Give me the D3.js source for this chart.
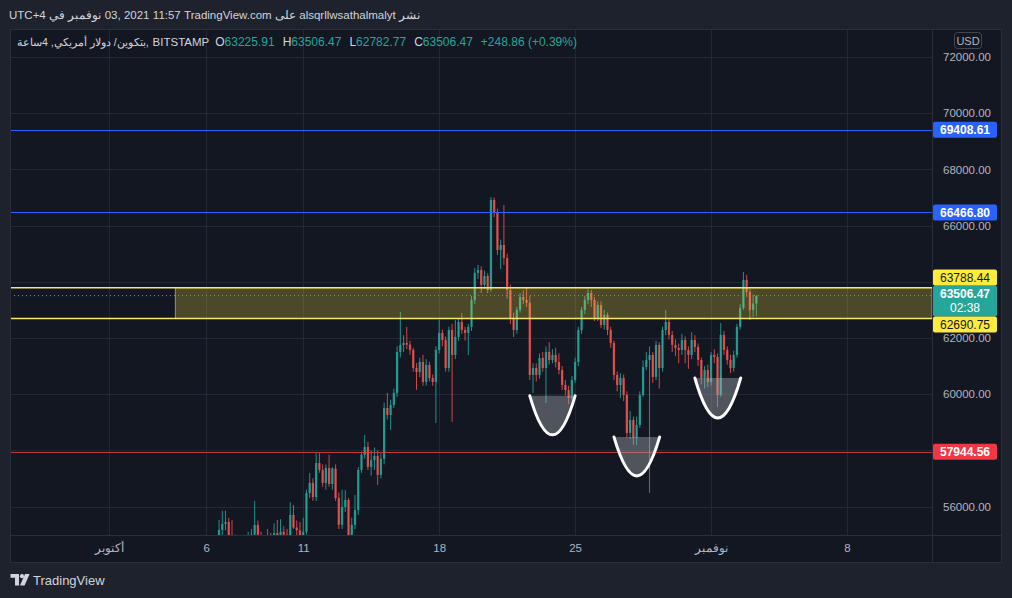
<!DOCTYPE html>
<html><head><meta charset="utf-8">
<script src="https://cdn.jsdelivr.net/npm/d3@7"></script>
<style>html,body{margin:0;padding:0;background:#1e222d;overflow:hidden}</style>
</head><body><svg id="c" width="1012" height="598"></svg>
<script>
// ---------------- DATA ----------------
const candleStart = "2021-10-06T16:00:00Z"; // first 4h bar, then every 4 hours
const opens = [
 54900,55166,
 55380,55450,54950,54800,54500,54700,
 54600,54800,54900,55000,55344,54950,
 54700,54800,54950,54900,55050,54950,
 55100,55000,54900,55700,55250,55150,
 54750,55100,56480,56840,56340,57550,
 57300,56840,57370,56800,57350,56300,
 55350,55985,56234,54950,55344,55878,
 57301,57836,58120,57408,57650,57800,
 57123,57700,59508,59259,59615,60042,
 61501,61750,61821,61760,61572,60932,
 60789,61145,60433,61038,60575,60433,
 61572,62178,61928,60932,62284,61394,
 62035,62569,62284,62178,62391,63352,
 64313,64419,63886,64206,63708,66911,
 66448,65131,65309,64846,63708,62711,
 62284,62996,63458,63352,63250,60682,
 60932,60682,61287,60932,61501,61216,
 61394,61145,60860,60326,60148,59864,
 60504,61145,62284,62996,63352,63601,
 63352,62711,63174,62462,62818,62284,
 61821,60682,60326,60575,59971,58618,
 59081,58440,58903,59971,60967,61216,
 61394,60611,61750,60932,62284,62569,
 62107,61750,61644,61572,61928,61572,
 61394,61928,61679,61216,60575,60860,
 60433,61394,61323,59971,62107,61572,
 61216,60932,61394,62391,63067,64064,
 63640,62996,63225.91
];
const highs = [
 55520,55850,
 55850,55600,55520,55000,54900,54950,
 54950,55100,55200,56200,55500,55100,
 54950,55200,55060,55400,55520,55550,
 55300,55200,56150,56050,55500,55450,
 55600,56600,57190,57000,57900,57900,
 57500,57500,57840,57400,57500,56500,
 56590,56590,56300,55600,56412,57400,
 57950,58550,58300,58000,58100,58000,
 57900,59700,60042,59800,60200,61700,
 62925,62100,62391,61900,61650,61100,
 61300,61400,61250,61150,60700,61700,
 62640,62300,62050,62400,62500,62640,
 62700,62889,62400,62500,63500,64490,
 64600,64550,64400,64300,67017,67000,
 66600,65500,66733,65000,63900,62900,
 63100,63600,63700,63779,63500,61100,
 61100,61450,61500,61700,61850,61600,
 61650,61450,61000,60500,60300,60650,
 61300,62400,63100,63500,63730,63708,
 63450,63300,63300,63000,62900,62400,
 61900,60800,60750,60700,60100,59400,
 59200,59200,60100,61200,61500,61700,
 61500,61900,61850,62400,62996,62700,
 62250,61950,61800,62150,62050,61700,
 62200,62100,61800,61300,61000,61050,
 61500,61600,61450,62534,62250,61700,
 61400,61550,62500,63200,64350,64250,
 63750,63550,63506.47
];
const lows = [
 54700,54950,
 55150,54800,54600,54300,54200,54400,
 54300,54600,54700,54800,54900,54500,
 54400,54600,54700,54700,54800,54850,
 54800,54700,54800,55200,54900,54600,
 54700,55000,56300,56200,56200,57200,
 56700,56600,56700,56600,56200,55200,
 55200,55800,54700,54600,55200,55700,
 57200,57700,57300,57100,57300,56767,
 57000,57500,59100,58725,59500,59900,
 61300,61500,61600,61400,60800,60148,
 60600,60300,60300,60450,60300,58974,
 61450,61700,60800,60800,59010,61250,
 61900,62150,61900,61394,62250,63200,
 64100,63601,63750,63600,63650,66300,
 64950,64450,64600,63400,62500,62035,
 62150,62900,63200,63100,60500,60042,
 60450,60550,60800,59686,61050,61100,
 60950,60700,60150,59950,59650,59800,
 60400,61000,62150,62850,63200,63100,
 62600,62600,62350,62300,62100,61650,
 60500,60100,59864,59750,58450,58400,
 58200,58191,58800,59900,60850,56483,
 60400,60500,60200,60800,62100,61950,
 61500,61350,61100,61400,61100,60900,
 61250,61500,61000,60350,60200,60250,
 60300,61100,59544,59900,61400,61050,
 60750,60800,61300,62300,63000,63450,
 62640,62750,62782.77
];
const closes = [
 55166,55380,
 55450,54950,54800,54500,54700,54600,
 54800,54900,55000,55344,54950,54700,
 54800,54950,54900,55050,54950,55100,
 55000,54900,55700,55250,55150,54750,
 55100,56480,56840,56340,57550,57300,
 56840,57370,56800,57350,56300,55350,
 55985,56234,54950,55344,55878,57301,
 57836,58120,57408,57650,57800,57123,
 57700,59508,59259,59615,60042,61501,
 61750,61821,61760,61572,60932,60789,
 61145,60433,61038,60575,60433,61572,
 62178,61928,60932,62284,61394,62035,
 62569,62284,62178,62391,63352,64313,
 64419,63886,64206,63708,66911,66448,
 65131,65309,64846,63708,62711,62284,
 62996,63458,63352,63250,60682,60932,
 60682,61287,60932,61501,61216,61394,
 61145,60860,60326,60148,59864,60504,
 61145,62284,62996,63352,63601,63352,
 62711,63174,62462,62818,62284,61821,
 60682,60326,60575,59971,58618,59081,
 58440,58903,59971,60967,61216,61394,
 60611,61750,60932,62284,62569,62107,
 61750,61644,61572,61928,61572,61394,
 61928,61679,61216,60575,60860,60433,
 61394,61323,59971,62107,61572,61216,
 60932,61394,62391,63067,64064,63640,
 62996,63226,63506.47
];
const priceTickValues = [56000, 60000, 62000, 66000, 68000, 70000, 72000];
const gridPrices = [56000, 58000, 60000, 62000, 64000, 66000, 68000, 70000, 72000];
const dateTickValues = ["2021-10-01","2021-10-06","2021-10-11","2021-10-18","2021-10-25","2021-11-01","2021-11-08"];
const dateTickLabels = ["أكتوبر","6","11","18","25","نوفمبر","8"];
const resistanceLines = [69408.61, 66466.80];
const zoneTop = 63788.44, zoneBottom = 62690.75, zoneStart = "2021-10-04T10:00:00Z";
const supportLine = 57944.56;
const lastPrice = 63506.47, countdown = "02:38";
const legendKeys = ["O","H","L","C"];
const legendNumbers = ["63225.91","63506.47","62782.77","63506.47"];
const legendChange = "+248.86 (+0.39%)";
// cup drawings: start, end, rim price, bottom price
const cupStarts = ["2021-10-22T16:00:00Z","2021-10-27T00:00:00Z","2021-10-31T04:00:00Z"];
const cupEnds   = ["2021-10-25T00:00:00Z","2021-10-29T08:30:00Z","2021-11-02T12:40:00Z"];
const cupRims   = [59940, 58476, 60575];
const cupBottoms= [58550, 57088, 59152];
const headerPieces = ["UTC+4","في","نوفمبر","03,","2021","11:57","TradingView.com","على","alsqrllwsathalmalyt","نشر"];
const symbolArabic = "بتكوين/ دولار أمريكي, 4ساعة,";
const exchangeName = "BITSTAMP";

// ---------------- LAYOUT ----------------
const svg = d3.select("#c");
const W = 1012, H = 598;
const pane = {l:10, r:932, t:29, b:535};
const axisR = 1002, axisB = 563;
const FONT = "'Liberation Sans', Arial, sans-serif";

const x = d3.scaleUtc().domain([new Date("2021-10-01T00:00:00Z"), new Date("2021-11-08T00:00:00Z")]).range([109, 847]);
const y = d3.scaleLinear().domain([56000, 72000]).range([506.5, 57]);

const t0 = new Date(candleStart).getTime();
const candles = opens.map((o,i)=>({t:new Date(t0 + i*4*3600e3), o, h:highs[i], l:lows[i], c:closes[i]}));

svg.append("rect").attr("width",W).attr("height",H).attr("fill","#1e222d");
svg.append("rect").attr("x",pane.l).attr("y",pane.t).attr("width",axisR-pane.l).attr("height",axisB-pane.t).attr("fill","#131722");

const defs = svg.append("defs");
defs.append("clipPath").attr("id","clip").append("rect")
  .attr("x",pane.l).attr("y",pane.t).attr("width",pane.r-pane.l).attr("height",pane.b-pane.t);
const g = svg.append("g").attr("clip-path","url(#clip)");

// grid
g.selectAll(".hg").data(gridPrices).join("line")
  .attr("x1",pane.l).attr("x2",pane.r).attr("y1",d=>Math.round(y(d))+0.5).attr("y2",d=>Math.round(y(d))+0.5)
  .attr("stroke","#232733").attr("stroke-width",1);
g.selectAll(".vg").data(dateTickValues).join("line")
  .attr("x1",d=>Math.round(x(new Date(d+"T00:00:00Z")))+0.5).attr("x2",d=>Math.round(x(new Date(d+"T00:00:00Z")))+0.5)
  .attr("y1",pane.t).attr("y2",pane.b).attr("stroke","#232733");

// candles
const step = x(new Date(t0+4*3600e3)) - x(new Date(t0));
const bw = step*0.7;
const cg = g.append("g");
cg.selectAll("line").data(candles).join("line")
  .attr("x1",d=>x(d.t)).attr("x2",d=>x(d.t)).attr("y1",d=>y(d.h)).attr("y2",d=>y(d.l))
  .attr("stroke",d=>d.c>=d.o?"#26a69a":"#ef5350").attr("stroke-width",1).attr("opacity",0.85);
cg.selectAll("rect").data(candles).join("rect")
  .attr("x",d=>x(d.t)-bw/2).attr("width",bw)
  .attr("y",d=>y(Math.max(d.o,d.c))).attr("height",d=>Math.max(1,Math.abs(y(d.o)-y(d.c))))
  .attr("fill",d=>d.c>=d.o?"#26a69a":"#ef5350").attr("opacity",0.85);

// zone rectangle
g.append("rect").attr("x",x(new Date(zoneStart))).attr("width",pane.r - x(new Date(zoneStart)))
  .attr("y",y(zoneTop)).attr("height",y(zoneBottom)-y(zoneTop))
  .attr("fill","rgba(255,235,59,0.24)").attr("stroke","rgba(255,235,59,0.55)").attr("stroke-width",1);
// horizontal lines
[zoneTop, zoneBottom].forEach(p=>{
  g.append("line").attr("x1",pane.l).attr("x2",pane.r).attr("y1",y(p)).attr("y2",y(p))
   .attr("stroke","#f5e86a").attr("stroke-width",1.6);
});
resistanceLines.forEach(p=>{
  g.append("line").attr("x1",pane.l).attr("x2",pane.r).attr("y1",Math.round(y(p))+0.5).attr("y2",Math.round(y(p))+0.5)
   .attr("stroke","#2962ff").attr("stroke-width",1);
});
g.append("line").attr("x1",pane.l).attr("x2",pane.r).attr("y1",Math.round(y(supportLine))+0.5).attr("y2",Math.round(y(supportLine))+0.5)
  .attr("stroke","#e0423f").attr("stroke-width",1).attr("opacity",0.85);
// last price dotted line
g.append("line").attr("x1",pane.l).attr("x2",pane.r).attr("y1",y(lastPrice)).attr("y2",y(lastPrice))
  .attr("stroke","#7b93a8").attr("stroke-width",1).attr("stroke-dasharray","1,3");

// cups
cupStarts.forEach((s,i)=>{
  const x1 = x(new Date(s)), x2 = x(new Date(cupEnds[i]));
  const yt = y(cupRims[i]), yb = y(cupBottoms[i]);
  const cx = (x1+x2)/2, cy = 2*yb - yt;
  g.append("path").attr("d",`M${x1},${yt} Q${cx},${cy} ${x2},${yt} Z`)
   .attr("fill","rgba(180,183,190,0.38)").attr("stroke","none");
  g.append("path").attr("d",`M${x1},${yt} Q${cx},${cy} ${x2},${yt}`)
   .attr("fill","none").attr("stroke","#ffffff").attr("stroke-width",3).attr("stroke-linecap","round");
});

// pane borders
svg.append("line").attr("x1",pane.r+0.5).attr("x2",pane.r+0.5).attr("y1",pane.t).attr("y2",axisB).attr("stroke","#2a2e39");
svg.append("line").attr("x1",pane.l).attr("x2",axisR).attr("y1",pane.b+0.5).attr("y2",pane.b+0.5).attr("stroke","#2a2e39");
svg.append("rect").attr("x",pane.l+0.5).attr("y",pane.t+0.5).attr("width",axisR-pane.l-1).attr("height",axisB-pane.t-1)
  .attr("fill","none").attr("stroke","#2a2e39");

// price axis
const ya = svg.append("g").attr("transform",`translate(${pane.r},0)`)
  .call(d3.axisRight(y).tickValues(priceTickValues).tickFormat(d=>d.toFixed(2)).tickSize(0).tickPadding(0));
ya.select(".domain").remove();
ya.selectAll("text").attr("x",35).attr("text-anchor","middle").attr("fill","#b2b5be")
  .style("font-family",FONT).style("font-size","11.5px");

// time axis
const xa = svg.append("g").attr("transform",`translate(0,${pane.b})`)
  .call(d3.axisBottom(x).tickValues(dateTickValues.map(d=>new Date(d+"T00:00:00Z"))).tickFormat((d,i)=>dateTickLabels[i]).tickSize(0).tickPadding(0));
xa.select(".domain").remove();
xa.selectAll("text").attr("y",13).attr("dy","0.32em").attr("fill","#b2b5be")
  .style("font-family",FONT).style("font-size","11.5px");

// USD box
svg.append("rect").attr("x",954.5).attr("y",32.5).attr("width",27).attr("height",16).attr("rx",3)
  .attr("fill","#131722").attr("stroke","#434651");
svg.append("text").attr("x",968).attr("y",44.5).attr("text-anchor","middle").attr("fill","#b2b5be")
  .style("font-family",FONT).style("font-size","11px").text("USD");

// price labels
function priceLabel(cy, h, bg, fg, lines, bold){
  svg.append("rect").attr("x",933).attr("y",cy-h/2).attr("width",64).attr("height",h).attr("rx",2).attr("fill",bg);
  lines.forEach((t,k)=>{
    svg.append("text").attr("x",965).attr("y",cy - (lines.length-1)*7 + k*14).attr("dy","0.35em")
      .attr("text-anchor","middle").attr("fill",fg).style("font-family",FONT).style("font-size","12px")
      .style("font-weight", (bold && k===0)?"bold":"normal").text(t);
  });
}
resistanceLines.forEach(p=>priceLabel(y(p),16,"#2962ff","#ffffff",[p.toFixed(2)],true));
priceLabel(y(supportLine),16,"#f23645","#ffffff",[supportLine.toFixed(2)],true);
const tealTop = y(lastPrice)-10, tealH = 31;
priceLabel(tealTop + tealH/2, tealH, "#26a69a", "#ffffff", [lastPrice.toFixed(2), countdown], true);
priceLabel(tealTop - 8, 16, "#ffeb3b", "#131722", [zoneTop.toFixed(2)], false);
priceLabel(tealTop + tealH + 8, 16, "#ffeb3b", "#131722", [zoneBottom.toFixed(2)], false);

// text layout helper
function layout(pieces, x0, yy){
  let xx = x0;
  pieces.forEach(p=>{
    const t = svg.append("text").attr("x",xx).attr("y",yy).attr("fill",p.c||"#d1d4dc")
      .style("font-family",FONT).style("font-size",p.s+"px").style("font-weight",p.w||"normal").text(p.t);
    xx += t.node().getComputedTextLength() + (p.gap!==undefined?p.gap:3);
  });
  return xx;
}
// header
layout(headerPieces.map(t=>({t, s:11.5, gap:3.3})), 9, 18.5);

// legend
let lxEnd = layout([{t:symbolArabic, s:10.6, gap:4},{t:exchangeName, s:11.5, gap:0}], 17, 46);
const teal = "#26a69a";
let cx0 = Math.max(205, lxEnd + 6);
legendKeys.forEach((k,i)=>{
  cx0 = layout([{t:k,s:12,gap:0},{t:legendNumbers[i],s:12,c:teal,gap:8}], cx0, 46);
});
layout([{t:legendChange,s:12,c:teal}], cx0, 46);

// footer logo
svg.append("path").attr("d","M10.5 574 h8.5 v11.5 h-4 v-7.8 h-4.5 z").attr("fill","#d1d4dc");
svg.append("circle").attr("cx",22).attr("cy",576.2).attr("r",2.1).attr("fill","#d1d4dc");
svg.append("path").attr("d","M25 574 h4.6 l-5 11.5 h-4.6 z").attr("fill","#d1d4dc");
svg.append("text").attr("x",33).attr("y",585).attr("fill","#d1d4dc").style("font-family",FONT).style("font-size","13px").text("TradingView");
</script></body></html>
